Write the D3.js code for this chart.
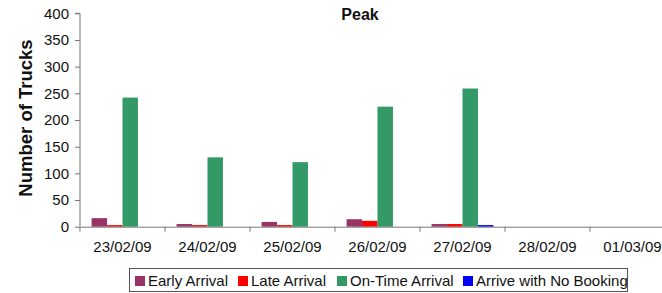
<!DOCTYPE html>
<html><head><meta charset="utf-8">
<script src="https://cdn.jsdelivr.net/npm/d3@7"></script>
<style>body{margin:0;background:#fff;} svg{display:block;font-family:Arial,"Liberation Sans",sans-serif;}</style>
</head><body><svg id="c" width="662" height="293"></svg>
<script>
const categories = ["23/02/09","24/02/09","25/02/09","26/02/09","27/02/09","28/02/09","01/03/09"];
const seriesNames = ["Early Arrival","Late Arrival","On-Time Arrival","Arrive with No Booking"];
const seriesColors = ["#993366","#FF0000","#339966","#0000FF"];
const earlyArrival = [16, 5, 9, 14, 5, 0, 0];
const lateArrival = [3, 3, 3, 11, 5, 0, 0];
const onTimeArrival = [242, 130, 121, 225, 259, 0, 0];
const noBooking = [0, 0, 0, 0, 3, 0, 0];
const yTicks = [0,50,100,150,200,250,300,350,400];
const chartTitle = "Peak";
const yTitle = "Number of Trucks";

(function(){
const series = [earlyArrival, lateArrival, onTimeArrival, noBooking];
const svg = d3.select("#c");
const pLeft = 80, pRight = 675, pTop = 13.3, pBottom = 226.7;
const x = d3.scaleBand().domain(categories).range([pLeft, pRight]).padding(0);
const y = d3.scaleLinear().domain([0, 400]).range([pBottom, pTop]);
const bw = x.bandwidth() / 5.5;
const x1 = d3.scaleBand().domain(d3.range(4)).range([0.75*bw, 4.75*bw]).padding(0);
const font = "Arial, 'Liberation Sans', sans-serif";

const g = svg.append("g");
series.forEach((vals, si) => {
  g.selectAll(".s"+si).data(categories.map((c,i)=>({c, v: vals[i]}))).enter()
    .append("rect")
    .attr("x", d => x(d.c) + x1(si))
    .attr("width", x1.bandwidth())
    .attr("y", d => y(d.v))
    .attr("height", d => y(0) - y(d.v))
    .attr("fill", seriesColors[si]);
});

const axisColor = "#777";
const yAxis = svg.append("g").attr("transform", `translate(${pLeft},0)`)
  .call(d3.axisLeft(y).tickValues(yTicks).tickSize(5).tickPadding(6).tickFormat(d3.format("d")));
yAxis.select(".domain").attr("stroke", axisColor).attr("d", `M-5,${pTop}H0V${pBottom}`);
yAxis.selectAll(".tick line").attr("stroke", axisColor);
yAxis.selectAll(".tick text").attr("font-size", 15).attr("fill", "#111").attr("font-family", font);

const xAxis = svg.append("g").attr("transform", `translate(0,${pBottom})`)
  .call(d3.axisBottom(x).tickSize(0).tickPadding(14.5));
xAxis.select(".domain").attr("stroke", axisColor);
xAxis.selectAll(".tick text").attr("font-size", 15).attr("fill", "#111").attr("font-family", font);
const bounds = categories.map(c => x(c));
xAxis.selectAll(".bt").data(bounds).enter().append("line")
  .attr("x1", d => d).attr("x2", d => d).attr("y1", 0).attr("y2", 5)
  .attr("stroke", axisColor);

svg.append("text").attr("x", 360).attr("y", 19.5).attr("text-anchor","middle")
  .attr("font-size", 16).attr("font-weight","bold").attr("fill","#111").attr("font-family", font).text(chartTitle);

svg.append("text").attr("transform", `translate(32,118) rotate(-90)`)
  .attr("text-anchor","middle").attr("font-size", 18.5).attr("font-weight","bold").attr("fill","#111").attr("font-family", font).text(yTitle);

const lg = svg.append("g");
lg.append("rect").attr("x", 129.5).attr("y", 268.5).attr("width", 498).attr("height", 23)
  .attr("fill","#fff").attr("stroke","#555").attr("stroke-width",1);
const legendX = [135, 238, 337, 463];
seriesNames.forEach((n, i) => {
  lg.append("rect").attr("x", legendX[i]).attr("y", 276).attr("width", 10).attr("height", 10).attr("fill", seriesColors[i]);
  lg.append("text").attr("x", legendX[i]+13).attr("y", 286).attr("font-size", 15).attr("fill","#111").attr("font-family", font).text(n);
});
})();
</script></body></html>
